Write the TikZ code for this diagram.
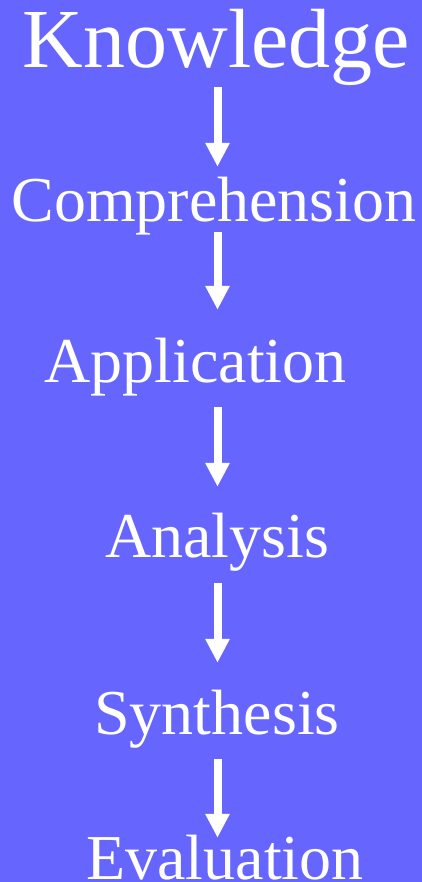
\documentclass[tikz,border=0pt]{standalone}
\usepackage{fontspec}
\setmainfont{Liberation Serif}
\usetikzlibrary{arrows.meta, calc}
\definecolor{slideblue}{HTML}{6666FF}

\begin{document}
\begin{tikzpicture}[x=1pt, y=1pt, >={Triangle[length=24pt, width=23pt]}]
	\tikzstyle{level} = [text=white, anchor=base, inner sep=0pt, font=\fontsize{64}{64}\selectfont, text height=44pt, text depth=14pt]
	\tikzstyle{flow} = [->, white, line width=8pt]

	\fill[slideblue] (0,0) rectangle (422,882);
	\useasboundingbox (0,0) rectangle (422,882);
	\coordinate (axis) at (217.5,0);

	\node[level, font=\fontsize{84}{84}\selectfont, text height=58pt, text depth=18pt] (know) at (216.5,814) {Knowledge};
	\node[level] (comp) at (214,660) {Comprehension};
	\node[level] (app) at (195.5,499) {Application};
	\node[level] (ana) at (217,324) {Analysis};
	\node[level] (syn) at (217,147) {Synthesis};
	\node[level] (eval) at (225,2) {Evaluation};

	% arrows down the column
	\draw[flow, shorten <=1pt, shorten >=11pt] (know.south -| axis) -- (comp.north -| axis);
	\draw[flow, shorten <=-4pt, shorten >=29pt] (comp.south -| axis) -- (app.north -| axis);
	\draw[flow, shorten <=10pt, shorten >=27pt] (app.south -| axis) -- (ana.north -| axis);
	\draw[flow, shorten <=11pt, shorten >=28pt] (ana.south -| axis) -- (syn.north -| axis);
	\draw[flow, shorten <=10pt, shorten >=-2pt] (syn.south -| axis) -- (eval.north -| axis);
\end{tikzpicture}
\end{document}
